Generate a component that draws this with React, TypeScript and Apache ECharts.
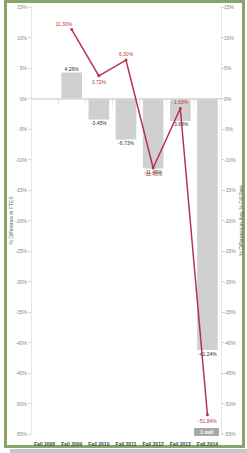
import React, { useEffect, useRef } from "react";
import * as echarts from "echarts";

const categories = ["Fall 2008", "Fall 2009", "Fall 2010", "Fall 2011", "Fall 2012", "Fall 2013", "Fall 2014"];
const ftesDiff: (number | null)[] = [null, 4.26, -3.45, -6.73, -11.46, -3.68, -41.24];
const fillRateDiff: (number | null)[] = [null, 11.3, 3.72, 6.3, -11.4, -1.63, -51.84];
const lineLabelPos = ["top", "top", "bottom", "top", "bottom", "top", "bottom"];
const lineLabelOffset = [[0, 0], [-8, 0], [0, 0], [0, 0], [0, 0], [0, 0], [0, 0]];
const nullNote = "1 null";

const FONT = "Liberation Sans, Arial, sans-serif";

export default function App() {
  const ref = useRef<HTMLDivElement>(null);
  useEffect(() => {
    if (!ref.current) return;
    const chart = echarts.init(ref.current, undefined, { renderer: "svg" });
    const barData = ftesDiff.map((v) =>
      v === null
        ? null
        : {
            value: v,
            label: { position: v >= 0 ? "top" : "bottom" },
          }
    );
    const lineData = fillRateDiff.map((v, i) =>
      v === null
        ? null
        : {
            value: v,
            label: { position: lineLabelPos[i], offset: lineLabelOffset[i] },
          }
    );
    const yCommon = {
      type: "value",
      min: -55,
      max: 15,
      interval: 5,
      splitLine: { show: false },
      axisLine: { show: true, lineStyle: { color: "#e6e6e6", width: 1 } },
      axisTick: { show: true, length: 3, lineStyle: { color: "#d6d6d6" } },
      nameLocation: "middle",
      nameRotate: 90,
      nameMoveOverlap: false,
      nameTextStyle: { fontSize: 5, color: "#555", fontFamily: FONT },
    };
    chart.setOption({
      animation: false,
      grid: { left: 31, right: 26, top: 7, bottom: 19, containLabel: false, outerBoundsMode: "none" },
      xAxis: {
        type: "category",
        data: categories,
        offset: 4,
        axisLine: { show: true, lineStyle: { color: "#e6e6e6" } },
        axisTick: { show: true, length: 7, lineStyle: { color: "#e6e6e6" } },
        axisLabel: { fontSize: 5, color: "#444", fontWeight: "bold", fontFamily: FONT, margin: 3, interval: 0 },
      },
      yAxis: [
        {
          ...yCommon,
          position: "left",
          name: "% Difference in FTES",
          nameGap: 18,
          axisLabel: { formatter: "{value}%", fontSize: 5, color: "#888", fontFamily: FONT, margin: 4 },
        },
        {
          ...yCommon,
          position: "right",
          name: "% Difference in Avg. % Fill Rate",
          nameGap: 17,
          axisLabel: { formatter: "{value}%", fontSize: 5, color: "#888", fontFamily: FONT, margin: 3 },
        },
      ],
      series: [
        {
          type: "bar",
          yAxisIndex: 0,
          data: barData,
          barWidth: "76%",
          itemStyle: { color: "#d0d0d0" },
          label: {
            show: true,
            distance: 1,
            fontSize: 5,
            color: "#333",
            fontFamily: FONT,
            formatter: (p: any) => `${Number(p.value).toFixed(2)}%`,
          },
          markLine: {
            silent: true,
            symbol: "none",
            label: { show: false },
            lineStyle: { color: "#d8d8d8", width: 1.5, type: "solid" },
            data: [{ yAxis: 0 }],
          },
        },
        {
          type: "line",
          yAxisIndex: 1,
          data: lineData,
          connectNulls: false,
          symbol: "circle",
          symbolSize: 3,
          lineStyle: { color: "#b5324f", width: 1.5 },
          itemStyle: { color: "#b5324f" },
          label: {
            show: true,
            distance: 2,
            fontSize: 5,
            color: "#c0392b",
            fontFamily: FONT,
            formatter: (p: any) => `${Number(p.value).toFixed(2)}%`,
          },
          z: 5,
        },
      ],
      graphic: [
        {
          type: "rect",
          shape: { x: 194, y: 428, width: 25, height: 8, r: 1 },
          style: { fill: "#a8a8a8" },
        },
        {
          type: "text",
          x: 206.5,
          y: 432,
          style: {
            text: nullNote,
            fill: "#fff",
            fontSize: 5,
            fontWeight: "bold",
            fontFamily: FONT,
            align: "center",
            verticalAlign: "middle",
          },
        },
      ],
    });
    return () => chart.dispose();
  }, []);
  return (
    <div style={{ position: "fixed", left: 0, top: 0, width: 247, height: 453, background: "#fff" }}>
      <div
        style={{
          position: "absolute",
          left: 4,
          top: 0,
          width: 241,
          height: 448,
          border: "3px solid #87a668",
          boxSizing: "border-box",
        }}
      />
      <div style={{ position: "absolute", left: 10, top: 449, width: 237, height: 4, background: "#c8c8c8" }} />
      <div ref={ref} style={{ position: "absolute", left: 0, top: 0, width: 247, height: 453 }} />
    </div>
  );
}
